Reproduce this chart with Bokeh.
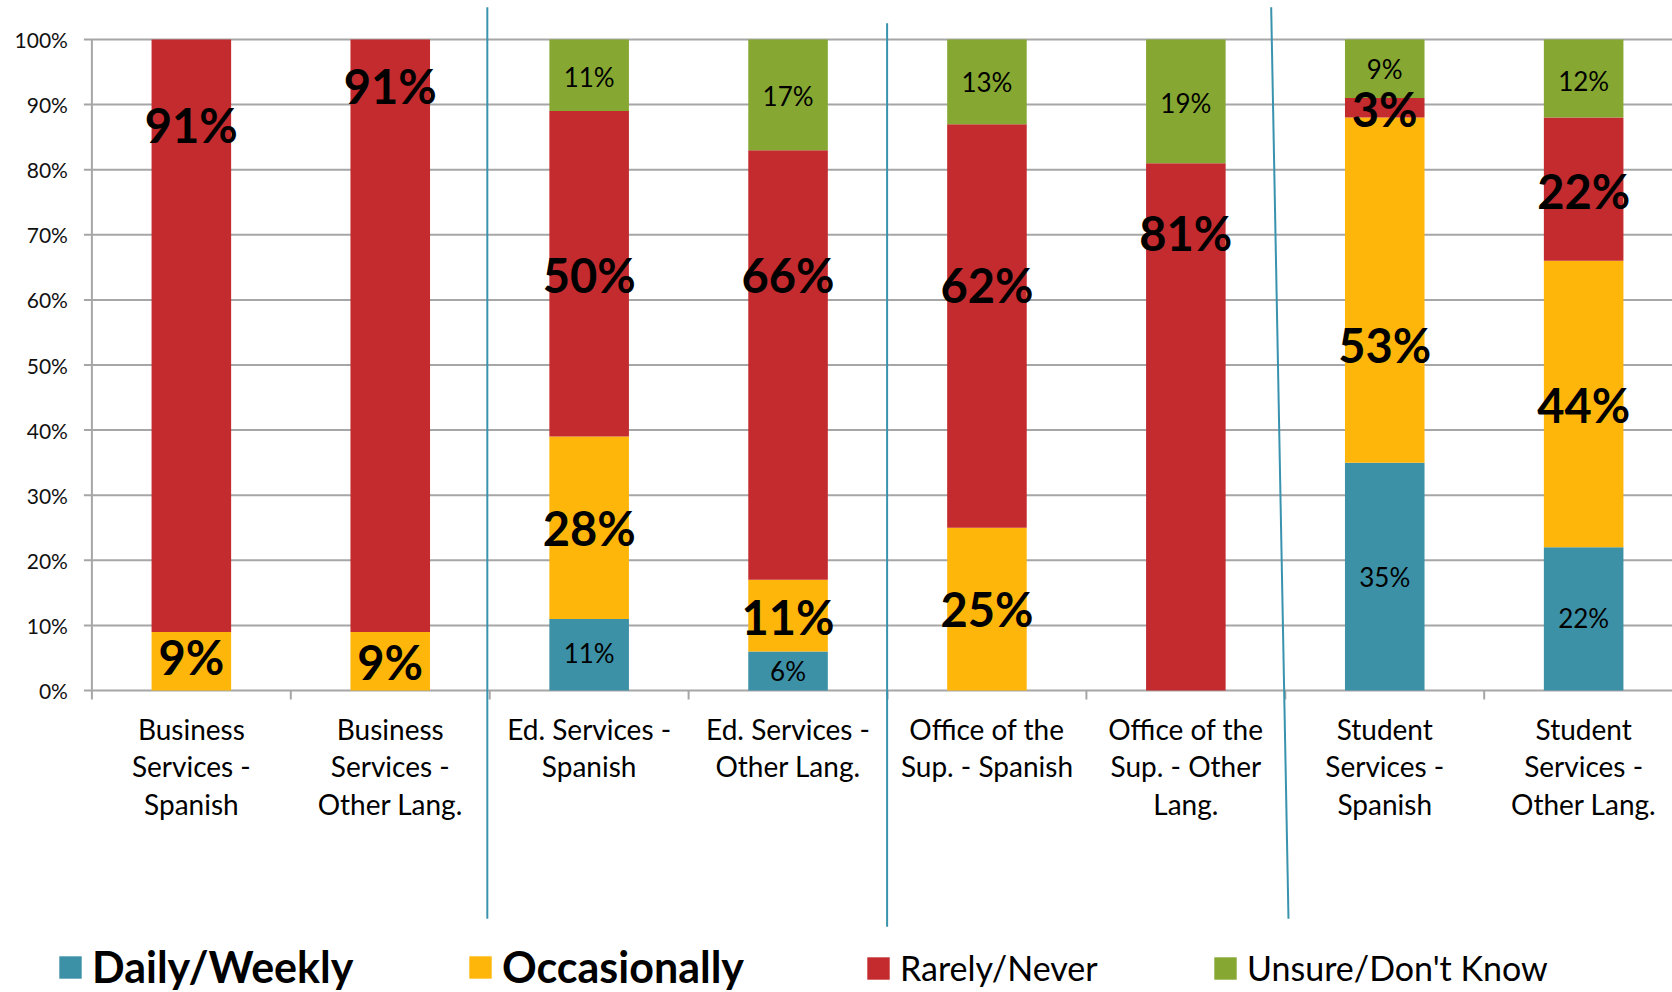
from bokeh.plotting import figure
from bokeh.models import ColumnDataSource, Range1d, Legend, LegendItem
from bokeh.core.properties import value
from bokeh.embed import file_html
from bokeh.resources import INLINE

# ---------------- data ----------------
categories = [
    "Business Services - Spanish",
    "Business Services - Other Lang.",
    "Ed. Services - Spanish",
    "Ed. Services - Other Lang.",
    "Office of the Sup. - Spanish",
    "Office of the Sup. - Other Lang.",
    "Student Services - Spanish",
    "Student Services - Other Lang.",
]
category_labels = [
    "Business\nServices -\nSpanish",
    "Business\nServices -\nOther Lang.",
    "Ed. Services -\nSpanish",
    "Ed. Services -\nOther Lang.",
    "Office of the\nSup. - Spanish",
    "Office of the\nSup. - Other\nLang.",
    "Student\nServices -\nSpanish",
    "Student\nServices -\nOther Lang.",
]
series = ["Daily/Weekly", "Occasionally", "Rarely/Never", "Unsure/Don't Know"]
daily = [0, 0, 11, 6, 0, 0, 35, 22]
occasionally = [9, 9, 28, 11, 25, 0, 53, 44]
rarely = [91, 91, 50, 66, 62, 81, 3, 22]
unsure = [0, 0, 11, 17, 13, 19, 9, 12]

# manual label positions (fraction of bar height), as placed in the original
daily_label_y = [None, None, 0.057, 0.030, None, None, 0.175, 0.111]
occ_label_y = [0.051, 0.044, 0.249, 0.113, 0.125, None, 0.531, 0.438]
rare_label_y = [0.869, 0.929, 0.638, 0.638, 0.623, 0.703, 0.894, 0.767]
unsure_label_y = [None, None, 0.943, 0.913, 0.934, 0.903, 0.954, 0.937]

y_ticks = [0.0, 0.1, 0.2, 0.3, 0.4, 0.5, 0.6, 0.7, 0.8, 0.9, 1.0]
y_tick_labels = ["0%", "10%", "20%", "30%", "40%", "50%", "60%", "70%", "80%", "90%", "100%"]

# ---------------- layout / style ----------------
colors = ["#3C91A7", "#FFB60B", "#C32B2F", "#86A833"]
sep_color = "#3A93AE"
grid_color = "#A6A6A6"
FONT = "Lato"

W, H = 1672, 992
AXIS_PX = 91.4          # x pixel of the value axis
CAT_PX = 198.9          # pixels per category
ZERO_PX = 690.0         # y pixel of 0%
UNIT_PX = 651.0         # pixels per 100%

x_start = -AXIS_PX / CAT_PX
x_end = (W - AXIS_PX) / CAT_PX
y_top = ZERO_PX / UNIT_PX
y_bot = (ZERO_PX - H) / UNIT_PX

p = figure(width=W, height=H, output_backend="svg", toolbar_location=None,
           x_range=Range1d(x_start, x_end), y_range=Range1d(y_bot, y_top),
           x_axis_type=None, y_axis_type=None,
           min_border_left=0, min_border_right=0,
           min_border_top=0, min_border_bottom=0)
p.outline_line_color = None
p.background_fill_color = "white"
p.border_fill_color = "white"
p.grid.visible = False

n = len(categories)
xs = [i + 0.5 for i in range(n)]
plot_right = n  # category axis extends to the last boundary

# horizontal gridlines
p.segment(x0=[0] * len(y_ticks), y0=y_ticks, x1=[plot_right] * len(y_ticks), y1=y_ticks,
          line_color=grid_color, line_width=2)
# value axis line, ticks and labels
p.segment(x0=[0], y0=[0], x1=[0], y1=[1], line_color=grid_color, line_width=2)
ytick_len = 8 / CAT_PX
p.segment(x0=[-ytick_len] * len(y_ticks), y0=y_ticks, x1=[0] * len(y_ticks), y1=y_ticks,
          line_color=grid_color, line_width=2)
p.text(x=[0] * len(y_ticks), y=y_ticks, text=y_tick_labels, x_offset=-24,
       text_align="right", text_baseline="middle", text_font=value(FONT),
       text_font_size="21px", text_color="#111111")

# category axis ticks
xtick_len = 9 / UNIT_PX
bounds = list(range(0, n + 1))
p.segment(x0=bounds, y0=[0] * len(bounds), x1=bounds, y1=[-xtick_len] * len(bounds),
          line_color=grid_color, line_width=2)

keys = ["daily", "occ", "rare", "unsure"]
src = ColumnDataSource(dict(
    x=xs,
    daily=[v / 100 for v in daily],
    occ=[v / 100 for v in occasionally],
    rare=[v / 100 for v in rarely],
    unsure=[v / 100 for v in unsure],
))
renderers = p.vbar_stack(keys, x="x", width=0.4, color=colors, source=src, line_width=0)

# value labels
vals_all = [daily, occasionally, rarely, unsure]
pos_all = [daily_label_y, occ_label_y, rare_label_y, unsure_label_y]
bold = [False, True, True, False]
for vals, pos, b in zip(vals_all, pos_all, bold):
    lx, ly, lt = [], [], []
    for i in range(n):
        if vals[i] > 0 and pos[i] is not None:
            lx.append(xs[i]); ly.append(pos[i]); lt.append(f"{vals[i]}%")
    p.text(x=lx, y=ly, text=lt, text_align="center", text_baseline="middle",
           text_font=value(FONT), text_font_size="47px" if b else "26px",
           text_font_style="bold" if b else "normal", text_color="black")

# category labels
p.text(x=xs, y=[0] * n, text=category_labels, y_offset=21, text_align="center",
       text_baseline="top", text_font=value(FONT), text_font_size="28px",
       text_line_height=1.11, text_color="black")

# group separators
sep_x0 = [1.988, 3.998, 5.929]
sep_x1 = [1.988, 3.998, 6.016]
sep_top = [1.0495, 1.0249, 1.0495]
sep_bot = [-0.3505, -0.363, -0.3505]
p.segment(x0=sep_x0, y0=sep_top, x1=sep_x1, y1=sep_bot, line_color=sep_color, line_width=2)

# legends (one per item to place them like the original)
leg_x = [56, 466, 864, 1211]
leg_y = [0, 0, 4, 4]
leg_size = ["43px", "43px", "34px", "34px"]
leg_style = ["bold", "bold", "normal", "normal"]
for r, name, lx, ly, fs, st in zip(renderers, series, leg_x, leg_y, leg_size, leg_style):
    lg = Legend(items=[LegendItem(label=value(name), renderers=[r])],
                location=(lx, ly), orientation="horizontal",
                border_line_color=None, background_fill_alpha=0,
                padding=0, margin=0, spacing=0,
                glyph_width=28, glyph_height=28, label_standoff=8,
                label_text_font=FONT, label_text_font_size=fs,
                label_text_font_style=st, label_text_color="black")
    p.add_layout(lg)

open("out.html", "w").write(file_html(p, INLINE))
